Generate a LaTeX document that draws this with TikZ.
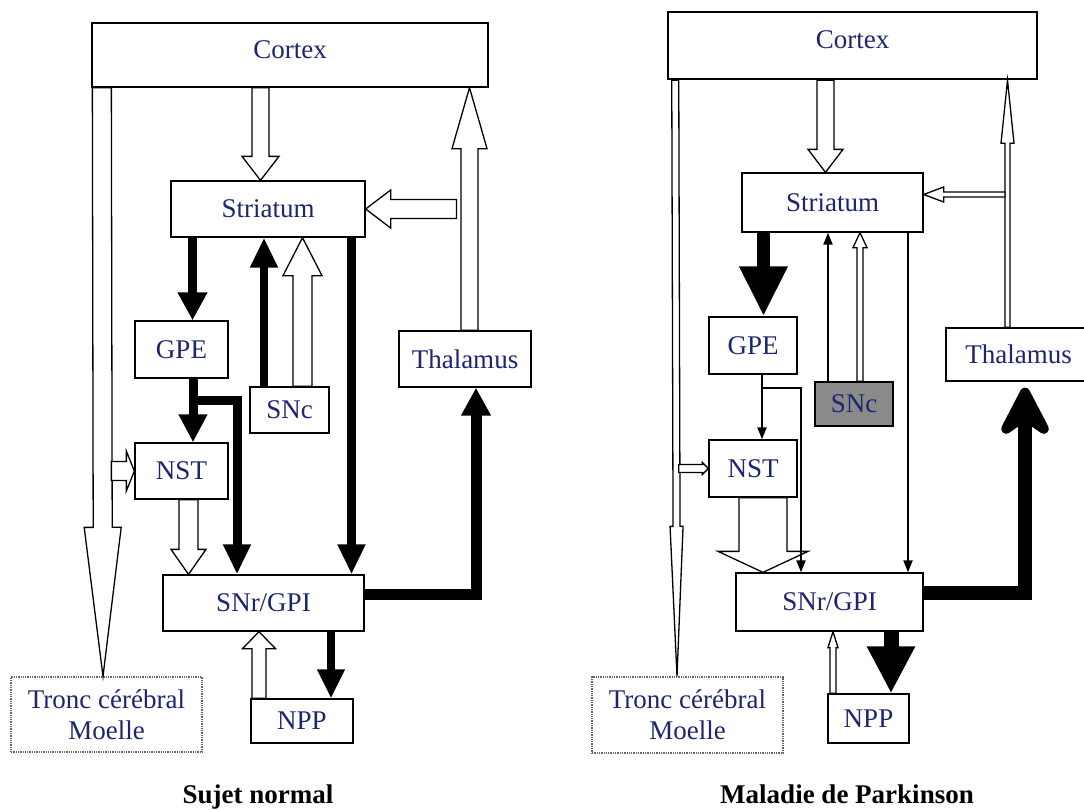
\documentclass[tikz,border=0pt]{standalone}
\usepackage{fontspec}
\setmainfont{Liberation Serif}
\usetikzlibrary{arrows.meta,calc}
\definecolor{navy}{RGB}{28,38,112}
\definecolor{sncgray}{RGB}{138,138,138}

\newcommand{\fatarrow}[6][]{%
  \path let \p1=(#2), \p2=(#3) in \pgfextra{%
    \pgfmathsetmacro{\faang}{atan2(\y2-\y1,\x2-\x1)}%
    \pgfmathsetmacro{\falen}{veclen(\x2-\x1,\y2-\y1)}%
    \global\let\faang\faang\global\let\falen\falen};
  \draw[hollow,#1,shift={(#2)},rotate=\faang]
    (0pt,-#4) -- (\falen pt-#6,-#4) -- (\falen pt-#6,-#5) -- (\falen pt,0pt)
    -- (\falen pt-#6,#5) -- (\falen pt-#6,#4) -- (0pt,#4) -- cycle;}

\begin{document}
\begin{tikzpicture}[x=1pt,y=-1pt,
    hollow/.style={draw,fill=white,line width=1.3pt,line join=miter},
    blk/.style args={#1/#2/#3}{line width=#1,-{Triangle[length=#2,width=#3]}},
    fine/.style={line width=2pt,-{Triangle[length=12pt,width=9pt]}}]

  \useasboundingbox (0,0) rectangle (1084,809);

  \begin{scope}[every node/.style={draw,fill=white,line width=1.3pt,inner sep=0pt,
      text=navy,font=\fontsize{27}{31}\selectfont}]
    \node[minimum width=396pt,minimum height=64pt,text height=35pt,text depth=29pt] (cortexL) at (290,55) {Cortex};
    \node[minimum width=194pt,minimum height=56pt] (striatumL) at (268,209) {Striatum};
    \node[minimum width=93pt,minimum height=57pt] (gpeL) at (181.5,349.5) {GPE};
    \node[minimum width=79pt,minimum height=46pt] (sncL) at (289.5,410) {SNc};
    \node[minimum width=93pt,minimum height=56pt] (nstL) at (181.5,471) {NST};
    \node[minimum width=132pt,minimum height=56pt] (thalL) at (465,359) {Thalamus};
    \node[minimum width=201pt,minimum height=56pt] (snrL) at (263.5,603) {SNr/GPI};
    \node[minimum width=102pt,minimum height=44pt] (nppL) at (302,721) {NPP};
    \node[minimum width=191pt,minimum height=75pt,align=center,densely dotted,draw=black!60]
      (troncL) at (106.5,714.5) {Tronc cérébral\\Moelle};

    \node[minimum width=369pt,minimum height=67pt,text height=36pt,text depth=31pt,line width=2.5pt] (cortexR) at (852.5,45.5) {Cortex};
    \node[minimum width=181pt,minimum height=59pt] (striatumR) at (832.5,202.5) {Striatum};
    \node[minimum width=88pt,minimum height=57pt] (gpeR) at (753,345.5) {GPE};
    \node[minimum width=78pt,minimum height=44pt,fill=sncgray] (sncR) at (854,404) {SNc};
    \node[minimum width=88pt,minimum height=57pt] (nstR) at (753,468.5) {NST};
    \node[minimum width=145pt,minimum height=53pt] (thalR) at (1018.5,354.5) {Thalamus};
    \node[minimum width=187pt,minimum height=58pt] (snrR) at (829.5,602) {SNr/GPI};
    \node[minimum width=81pt,minimum height=49pt] (nppR) at (868.5,718.5) {NPP};
    \node[minimum width=191pt,minimum height=76pt,align=center,densely dotted,draw=black!60]
      (troncR) at (687.5,715) {Tronc cérébral\\Moelle};
  \end{scope}

  \begin{scope}[every node/.style={anchor=base,inner sep=0pt,font=\fontsize{27}{31}\selectfont\bfseries}]
    \node (titleL) at (258,803) {Sujet normal};
    \node (titleR) at (847,803) {Maladie de Parkinson};
  \end{scope}

  \coordinate (tlL) at ([xshift=10.5pt]cortexL.south west);
  \coordinate (trL) at ([xshift=20pt]cortexL.south west);
  \coordinate (csL) at ([xshift=-7.5pt]striatumL.north);
  \coordinate (thL) at ([xshift=4.5pt]thalL.north);
  \coordinate (tbL) at ([xshift=-8.5pt]thalL.north);
  \coordinate (sgL) at ([xshift=11pt]gpeL.north);
  \coordinate (nsL) at ([xshift=-25.5pt]sncL.north);
  \coordinate (nhL) at ([xshift=13pt]sncL.north);
  \coordinate (ssL) at ([xshift=83.5pt]striatumL.south);
  \coordinate (gnL) at ([xshift=11.5pt]gpeL.south);
  \coordinate (nsnL) at ([xshift=7pt]nstL.south);
  \coordinate (snL) at ([xshift=67.5pt]snrL.south);
  \coordinate (pnL) at ([xshift=-43pt]nppL.north);

  \fatarrow{tlL}{[xshift=-3.5pt]troncL.north}{9.5pt}{18.5pt}{149pt}
  \fatarrow{trL |- nstL.west}{nstL.west}{9.5pt}{20pt}{8pt}
  \fatarrow{csL |- cortexL.south}{csL}{8.5pt}{18.5pt}{24pt}
  \fatarrow{thL}{thL |- cortexL.south}{8.5pt}{17.5pt}{61pt}
  \fatarrow{tbL |- striatumL.east}{striatumL.east}{9.5pt}{19pt}{25pt}
  \fatarrow{nhL}{nhL |- striatumL.south}{9.5pt}{19.5pt}{38pt}
  \fatarrow{nsnL}{nsnL |- snrL.north}{9.5pt}{17.5pt}{25pt}
  \fatarrow{pnL}{pnL |- snrL.south}{7pt}{16.5pt}{17pt}

  \draw[blk=9pt/28pt/28pt] (sgL |- striatumL.south) -- (sgL);
  \draw[blk=8pt/30pt/26pt] (nsL) -- (nsL |- striatumL.south);
  \draw[blk=9pt/30pt/26pt] (ssL) -- (ssL |- snrL.north);
  \draw[blk=9pt/28pt/27pt] (gnL) -- (gnL |- nstL.north);
  \draw[blk=9pt/30pt/26pt] ([xshift=11.5pt,yshift=-22pt]gpeL.south) -| ([xshift=-26.5pt]snrL.north);
  \draw[blk=11pt/28pt/28pt] ([yshift=9pt]snrL.east) -| ([xshift=11pt]thalL.south);
  \draw[blk=8pt/29pt/26pt] (snL) -- (snL |- nppL.north);

  \coordinate (tlR) at ([xshift=8.5pt]cortexR.south west);
  \coordinate (trR) at ([xshift=12pt]cortexR.south west);
  \coordinate (csR) at ([xshift=-7pt]striatumR.north);
  \coordinate (thR) at ([xshift=-11pt]thalR.north);
  \coordinate (tbR) at ([xshift=-13.5pt]thalR.north);
  \coordinate (seR) at ([yshift=8pt]striatumR.east);
  \coordinate (sgR) at ([xshift=10.5pt]gpeR.north);
  \coordinate (nsR) at ([xshift=-26pt]sncR.north);
  \coordinate (nhR) at ([xshift=6pt]sncR.north);
  \coordinate (ssR) at ([xshift=75.5pt]striatumR.south);
  \coordinate (gnR) at ([xshift=9pt]gpeR.south);
  \coordinate (nsnR) at ([xshift=10pt]nstR.south);
  \coordinate (snR) at ([xshift=61.5pt]snrR.south);
  \coordinate (pnR) at ([xshift=-35.5pt]nppR.north);

  \fatarrow{tlR}{[xshift=-10.5pt]troncR.north}{3.5pt}{6.5pt}{150pt}
  \fatarrow{trR |- nstR.west}{nstR.west}{4pt}{6pt}{6pt}
  \fatarrow{csR |- cortexR.south}{csR}{8.5pt}{17.5pt}{23pt}
  \fatarrow{thR}{thR |- cortexR.south}{2.5pt}{6.5pt}{63pt}
  \fatarrow{tbR |- seR}{seR}{2.5pt}{7.5pt}{20pt}
  \fatarrow{nhR}{nhR |- striatumR.south}{3pt}{7pt}{15pt}
  \fatarrow{nsnR}{nsnR |- snrR.north}{24pt}{45pt}{21pt}
  \fatarrow{pnR}{pnR |- snrR.south}{3pt}{5pt}{16pt}

  \draw[blk=13pt/50pt/45pt] (sgR |- striatumR.south) -- (sgR);
  \draw[fine] (nsR) -- (nsR |- striatumR.south);
  \draw[fine] (ssR) -- (ssR |- snrR.north);
  \draw[fine] (gnR) -- (gnR |- nstR.north);
  \draw[fine] ([xshift=9pt,yshift=-13pt]gpeR.south) -| ([xshift=-28.5pt]snrR.north);
  \draw[line width=14pt,-{Stealth[length=62pt,width=64pt,inset=22pt,round]}]
    ([yshift=9.5pt]snrR.east) -| ([xshift=6.5pt,yshift=-6pt]thalR.south);
  \draw[blk=15pt/47pt/45pt] (snR) -- (snR |- nppR.north);

\end{tikzpicture}
\end{document}
